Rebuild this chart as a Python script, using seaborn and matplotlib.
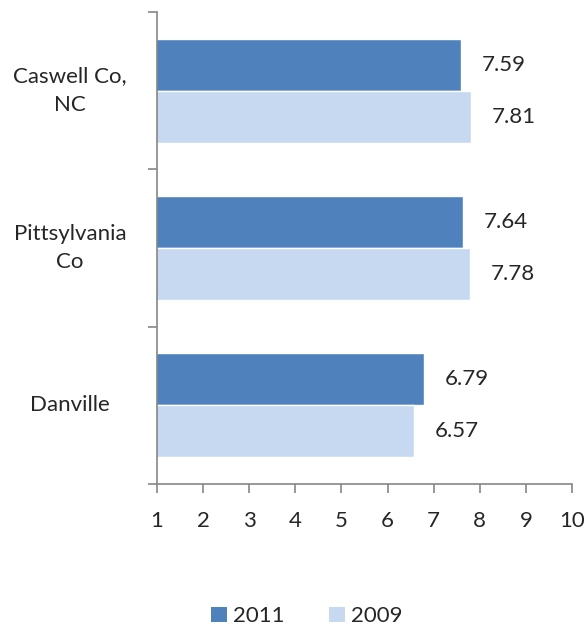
import matplotlib
matplotlib.use("Agg")
import matplotlib.pyplot as plt
import seaborn as sns
import pandas as pd
from matplotlib.patches import Patch

# Data
places = ["Caswell Co,\nNC", "Pittsylvania\nCo", "Danville"]
years = ["2011", "2009"]
values_2011 = [7.59, 7.64, 6.79]
values_2009 = [7.81, 7.78, 6.57]
x_ticks = [1, 2, 3, 4, 5, 6, 7, 8, 9, 10]

colors = {"2011": "#4F81BD", "2009": "#C6D9F1"}

df = pd.DataFrame({
    "place": places * 2,
    "year": ["2011"] * 3 + ["2009"] * 3,
    "value": values_2011 + values_2009,
})

sns.set_style("white")
plt.rcParams["font.family"] = ["Lato", "DejaVu Sans"]
FS = 16

fig = plt.figure(figsize=(5.88, 6.28), dpi=100)
ax = fig.add_axes([157 / 588, 1 - 484 / 628, (572 - 157) / 588, (484 - 12) / 628])

sns.barplot(data=df, y="place", x="value", hue="year", hue_order=years,
            order=places, palette=colors, orient="h", width=0.66,
            ax=ax, legend=False, saturation=1)

ax.set_xlim(1, 10)
ax.set_ylim(2.5, -0.5)
ax.set_xticks(x_ticks)
ax.set_xticklabels([str(t) for t in x_ticks], fontsize=FS)
ax.set_yticks([-0.5, 0.5, 1.5, 2.5])
ax.set_yticklabels([])
for i, lab in enumerate(places):
    ax.text(-0.21, i, lab, transform=ax.get_yaxis_transform(),
            ha="center", va="center", fontsize=FS, linespacing=1.55)

ax.set_xlabel("")
ax.set_ylabel("")
for side in ["top", "right"]:
    ax.spines[side].set_visible(False)
for side in ["left", "bottom"]:
    ax.spines[side].set_color("#868686")
    ax.spines[side].set_linewidth(1.2)
ax.tick_params(axis="both", which="major", direction="out", length=6.5,
               width=1.2, color="#868686", left=True, bottom=True)
ax.tick_params(axis="x", labelsize=FS, pad=13)

# Value labels
for cont in ax.containers:
    ax.bar_label(cont, fmt="%.2f", padding=15, fontsize=FS)

handles = [Patch(facecolor=colors[y], edgecolor="none", label=y) for y in years]
fig.legend(handles=handles, loc="center", bbox_to_anchor=(0.522, 0.019),
           ncol=2, frameon=False, fontsize=FS, handlelength=0.7,
           handleheight=0.7, handletextpad=0.3, columnspacing=2.0)

fig.savefig("out.png", dpi=100)
